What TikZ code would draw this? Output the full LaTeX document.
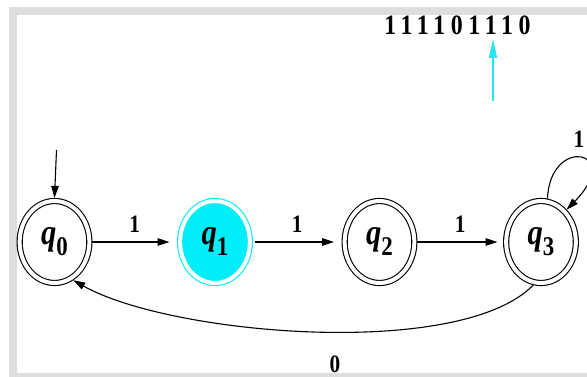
\documentclass[tikz,border=0pt]{standalone}
\usepackage{fontspec}
\setmainfont{Liberation Serif}
\usetikzlibrary{arrows.meta}
\definecolor{framegray}{RGB}{222,222,222}
\definecolor{qcyan}{RGB}{0,238,248}
\definecolor{arrcyan}{RGB}{40,230,240}
\newcommand{\qlab}[1]{\fontsize{36}{36}\selectfont\bfseries\itshape q\raisebox{-11pt}{\fontsize{27}{27}\selectfont\upshape #1}}
\begin{document}
\begin{tikzpicture}[x=1pt,y=-1pt,
  stateq/.style={circle, draw, line width=1.1pt, double=white, double distance=4pt,
    minimum size=82pt, inner sep=0pt, outer sep=3.1pt, xscale=0.85},
  tr/.style={-{Triangle[length=12pt,width=7.5pt]}, line width=1.1pt},
  lab/.style={font=\fontsize{25}{25}\selectfont\bfseries, xscale=0.85, inner sep=0pt}]
\useasboundingbox (0,0) rectangle (587,377);
\fill[framegray] (9,7) rectangle (587,377);
\fill[white] (17,15) rectangle (587,373);

\node[stateq] (q0) at (54.5,242) {\qlab{0}};
\node[stateq, draw=qcyan, fill=qcyan] (q1) at (215,242) {\qlab{1}};
\node[stateq] (q2) at (379.5,242) {\qlab{2}};
\node[stateq] (q3) at (541,242) {\qlab{3}};

\coordinate (init) at (56.5,150);
\draw[tr] (init) -- (q0.north);

\draw[tr, shorten >=8pt] (q0) -- (q1) node[lab, midway, above=9pt] {1};
\draw[tr, shorten >=8pt, shorten <=3pt] (q1) -- (q2) node[lab, midway, above=9pt] {1};
\draw[tr, shorten >=6pt] (q2) -- (q3) node[lab, midway, above=9pt] {1};

\draw[tr] (q3.80) .. controls (550,135) and (625,150) .. (q3.47);
\node[lab] (l33) at (579,139) {1};

\draw[tr] (q3.258) .. controls (460,360) and (170,335) .. (q0.300);
\node[lab] (l30) at (335,364) {0};

\node[font=\fontsize{28}{28}\selectfont\bfseries\addfontfeature{LetterSpace=24}, xscale=0.85, inner sep=0pt] (tape) at (457.5,25) {111101110};
\coordinate (head) at (493,101);
\draw[-{Triangle[length=19pt,width=8pt]}, line width=1.5pt, arrcyan] (head) -- ++(0,-62);
\end{tikzpicture}
\end{document}
